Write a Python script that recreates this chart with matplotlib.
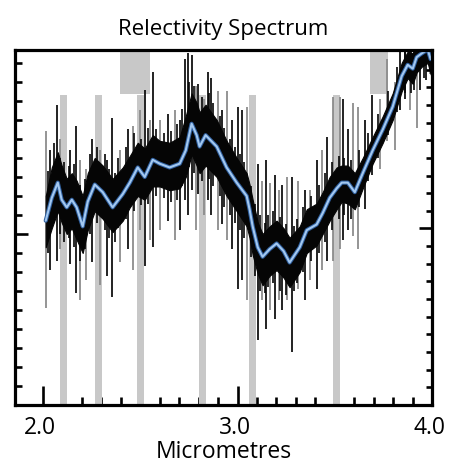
import matplotlib
matplotlib.use("Agg")
import matplotlib.pyplot as plt
from matplotlib.ticker import FixedLocator
from matplotlib.transforms import ScaledTranslation

# ---------------- data ----------------
# smoothed spectrum (blue line)
smooth_x = [2.014, 2.045, 2.076, 2.096, 2.122, 2.148, 2.173, 2.204, 2.230, 2.266,
            2.307, 2.358, 2.410, 2.446, 2.487, 2.523, 2.564, 2.600, 2.651, 2.703,
            2.734, 2.764, 2.790, 2.805, 2.836, 2.893, 2.944, 2.996, 3.047, 3.062,
            3.078, 3.104, 3.129, 3.165, 3.201, 3.237, 3.268, 3.320, 3.356, 3.407,
            3.438, 3.474, 3.510, 3.536, 3.567, 3.603, 3.644, 3.695, 3.747, 3.798,
            3.844, 3.875, 3.901, 3.921, 3.947, 3.978, 3.993]
smooth_y = [9.7, 10.9, 11.7, 10.8, 10.4, 10.8, 10.4, 9.4, 10.7, 11.6,
            11.2, 10.4, 11.1, 11.7, 12.5, 12.0, 12.9, 12.7, 12.5, 12.7,
            13.4, 14.8, 14.2, 13.6, 14.2, 13.6, 12.5, 11.7, 11.0, 10.3,
            9.4, 8.3, 7.8, 8.2, 8.5, 8.1, 7.5, 8.3, 9.2, 9.5,
            10.1, 10.9, 11.4, 11.7, 11.7, 11.2, 12.2, 13.4, 14.5, 15.7,
            17.3, 17.9, 17.7, 18.3, 18.5, 18.7, 18.2]
# dense scatter of the raw measurements (upper / lower envelope)
raw_upper = [11.0, 12.5, 13.3, 12.6, 11.9, 12.2, 11.8, 11.0, 12.2, 13.0,
             12.6, 11.9, 12.5, 13.1, 13.8, 13.5, 14.2, 13.9, 13.8, 14.1,
             15.2, 16.4, 15.9, 15.4, 15.8, 15.0, 13.9, 13.0, 12.2, 11.6,
             10.8, 9.6, 9.0, 9.4, 9.7, 9.3, 8.8, 9.4, 10.3, 10.6,
             11.2, 12.0, 12.5, 12.6, 12.6, 12.2, 13.0, 14.1, 15.2, 16.4,
             18.0, 18.6, 18.5, 18.9, 19.0, 19.0, 18.9]
raw_lower = [8.3, 9.3, 10.2, 9.6, 9.0, 9.3, 8.7, 8.0, 9.2, 10.2,
             9.8, 9.1, 9.7, 10.4, 11.0, 10.8, 11.5, 11.5, 11.3, 11.4,
             12.0, 13.2, 12.6, 12.2, 12.6, 12.0, 11.0, 10.2, 9.4, 8.8,
             7.9, 6.9, 6.3, 6.8, 7.1, 6.7, 6.2, 7.0, 8.0, 8.4,
             9.0, 9.7, 10.3, 10.7, 10.6, 10.3, 11.4, 12.7, 13.8, 15.0,
             16.5, 17.2, 16.9, 17.5, 17.8, 18.0, 17.4]
# short scatter ticks roughening the dense band
scatter_x = [2.025, 2.055, 2.085, 2.110, 2.135, 2.160, 2.190, 2.215, 2.240, 2.280,
             2.320, 2.340, 2.370, 2.385, 2.425, 2.470, 2.505, 2.540, 2.580, 2.620,
             2.660, 2.690, 2.715, 2.750, 2.775, 2.815, 2.855, 2.875, 2.910, 2.930,
             2.960, 2.985, 3.015, 3.035, 3.070, 3.090, 3.115, 3.140, 3.155, 3.180,
             3.220, 3.250, 3.290, 3.305, 3.335, 3.380, 3.420, 3.450, 3.485, 3.520,
             3.550, 3.585, 3.625, 3.670, 3.720, 3.775, 3.820, 3.860, 3.890, 3.910,
             3.960]
scatter_top = [12.3, 13.8, 13.0, 12.8, 12.6, 12.7, 11.6, 11.9, 13.2, 13.6,
               13.2, 12.4, 12.2, 13.0, 13.6, 14.3, 14.0, 14.6, 14.5, 14.3,
               14.4, 14.8, 15.6, 17.0, 16.8, 16.2, 16.4, 15.9, 15.2, 14.6,
               14.0, 13.6, 13.2, 12.8, 11.5, 10.6, 10.0, 9.6, 10.0, 10.2,
               9.9, 9.5, 9.4, 9.8, 10.4, 11.0, 11.6, 12.2, 12.8, 13.1,
               13.0, 12.9, 13.4, 14.3, 15.3, 16.5, 17.8, 18.7, 18.7, 18.7,
               18.7]
scatter_bottom = [8.0, 9.6, 9.0, 8.6, 8.8, 8.3, 7.6, 8.2, 9.0, 9.6,
                  9.2, 8.8, 8.6, 9.3, 9.8, 10.2, 10.5, 10.6, 11.0, 10.9,
                  10.7, 10.8, 11.5, 12.5, 12.2, 11.8, 11.9, 11.5, 11.0, 10.4,
                  10.0, 9.6, 9.2, 8.8, 7.8, 6.8, 6.0, 5.9, 6.2, 6.4,
                  6.0, 5.8, 6.0, 6.4, 7.0, 7.6, 8.0, 8.6, 9.2, 9.8,
                  10.0, 9.8, 10.4, 11.8, 13.0, 14.2, 15.4, 16.4, 16.4, 16.6,
                  17.2]
# error-bar spikes
spike_x = [2.014, 2.034, 2.070, 2.086, 2.137, 2.168, 2.189, 2.220, 2.250, 2.292,
           2.328, 2.354, 2.394, 2.435, 2.461, 2.497, 2.523, 2.548, 2.564, 2.600,
           2.641, 2.677, 2.703, 2.728, 2.744, 2.764, 2.785, 2.795, 2.826, 2.847,
           2.862, 2.898, 2.919, 2.944, 2.970, 3.001, 3.021, 3.047, 3.104, 3.124,
           3.145, 3.165, 3.191, 3.212, 3.227, 3.253, 3.278, 3.309, 3.345, 3.371,
           3.407, 3.433, 3.459, 3.490, 3.525, 3.541, 3.567, 3.593, 3.618, 3.654,
           3.690, 3.731, 3.767, 3.808, 3.834, 3.860, 3.885, 3.921, 3.937, 3.968,
           3.989]
spike_top = [14.4, 13.4, 15.8, 14.0, 13.4, 14.7, 12.9, 12.4, 14.0, 13.4,
             12.9, 15.1, 13.4, 14.5, 14.7, 15.5, 16.6, 15.0, 17.5, 15.0,
             15.3, 15.5, 15.0, 18.2, 18.5, 18.4, 16.8, 16.9, 16.1, 17.5,
             17.2, 16.5, 15.5, 16.5, 15.0, 15.7, 15.5, 15.7, 12.7, 11.8,
             12.9, 11.7, 12.1, 11.3, 11.6, 12.0, 12.0, 11.8, 11.3, 11.3,
             12.9, 13.4, 14.1, 16.2, 16.2, 16.1, 14.5, 15.9, 15.7, 15.0,
             16.3, 16.1, 18.2, 17.0, 18.7, 18.7, 18.7, 18.2, 18.7, 18.7,
             18.4]
spike_bottom = [5.1, 7.1, 7.6, 8.2, 7.4, 5.9, 5.5, 6.6, 7.5, 6.3,
                6.8, 5.7, 7.5, 8.2, 7.1, 9.2, 7.3, 8.7, 8.3, 9.2,
                9.7, 8.7, 9.2, 10.8, 10.0, 11.3, 9.2, 11.1, 10.0, 10.8,
                10.0, 9.2, 9.5, 8.7, 8.2, 6.1, 6.6, 5.5, 3.4, 5.5,
                4.0, 5.0, 4.5, 5.5, 5.0, 5.5, 2.8, 6.1, 5.5, 6.6,
                6.1, 7.1, 7.6, 7.6, 8.2, 8.7, 9.2, 8.9, 8.2, 10.3,
                12.1, 12.4, 13.9, 13.4, 15.5, 16.1, 15.5, 14.6, 16.6, 17.1,
                17.4]
spike_dark = [0, 1, 1, 0, 1, 1, 0, 0, 1, 0,
              1, 1, 0, 1, 0, 0, 1, 0, 1, 0,
              1, 0, 1, 1, 1, 1, 0, 1, 0, 1,
              1, 0, 1, 0, 1, 1, 1, 0, 1, 0,
              1, 0, 1, 0, 1, 0, 1, 0, 1, 0,
              1, 0, 1, 0, 0, 1, 1, 0, 0, 1,
              1, 0, 0, 0, 1, 1, 0, 0, 1, 1,
              0]
# masked (telluric) regions
band_centers = [2.106, 2.286, 2.502, 2.821, 3.078, 3.510]
band_top = 16.3
box_ranges = [(2.395, 2.549), (3.680, 3.772)]
box_bottom = 16.35

xticks_major = [2.0, 3.0, 4.0]
xtick_labels = ["2.0", "3.0", "4.0"]

# ---------------- figure ----------------
FONT = "Open Sans"
fig = plt.figure(figsize=(4.55, 4.69), dpi=100)
ax = fig.add_axes([15 / 455, (469 - 405) / 469, (432 - 15) / 455, (405 - 50) / 469])
xmin, xmax = 1.856, 4.0
ymin, ymax = 0.0, 18.68
ax.set_xlim(xmin, xmax)
ax.set_ylim(ymin, ymax)

band_w = 0.036
band_col = "#c8c8c8"
for c in band_centers:
    ax.fill_between([c - band_w / 2, c + band_w / 2], [0, 0], [band_top, band_top],
                    color=band_col, lw=0, zorder=2)
for a, b in box_ranges:
    ax.fill_between([a, b], [box_bottom, box_bottom], [ymax + 1, ymax + 1],
                    color=band_col, lw=0, zorder=2)

# spikes
for x, t, b, d in zip(spike_x, spike_top, spike_bottom, spike_dark):
    ax.plot([x, x], [b, t], color="#111111" if d else "#8c8c8c",
            lw=1.3, zorder=3 if not d else 3.2, solid_capstyle="butt")

# dense raw data
ax.fill_between(smooth_x, raw_lower, raw_upper, color="#050505", lw=0.8,
                edgecolor="#050505", zorder=3.5)
for x, t, b in zip(scatter_x, scatter_top, scatter_bottom):
    ax.plot([x, x], [b, t], color="#050505", lw=1.2, zorder=3.5, solid_capstyle="butt")

# smoothed curve
ax.plot(smooth_x, smooth_y, color="#2f5f9e", lw=3.0, zorder=4,
        solid_joinstyle="round", solid_capstyle="round")
ax.plot(smooth_x, smooth_y, color="#a3c8f0", lw=1.5, zorder=4.1,
        solid_joinstyle="round", solid_capstyle="round")

# spines
for s in ax.spines.values():
    s.set_linewidth(2.3)
    s.set_zorder(6)

# x ticks
ax.xaxis.set_major_locator(FixedLocator(xticks_major))
ax.set_xticklabels(xtick_labels)
ax.xaxis.set_minor_locator(FixedLocator([2.0 + 0.1 * i for i in range(1, 20) if i != 10]))
ax.tick_params(axis="x", which="major", direction="in", length=14, width=1.9,
               labelsize=16.5, pad=8, top=False)
ax.tick_params(axis="x", which="minor", direction="in", length=6, width=1.9, top=False)
for lab in ax.get_xticklabels():
    lab.set_fontfamily(FONT)
    lab.set_transform(lab.get_transform() + ScaledTranslation(-3 / 100, 0, fig.dpi_scale_trans))

# left y ticks
ax.yaxis.set_major_locator(FixedLocator([9]))
ax.yaxis.set_minor_locator(FixedLocator([k for k in range(1, 19) if k != 9]))
ax.tick_params(axis="y", which="major", direction="in", length=9.5, width=1.9,
               labelleft=False, right=False)
ax.tick_params(axis="y", which="minor", direction="in", length=5, width=1.9, right=False)

# right y ticks (slightly different spacing in the reference)
ax2 = ax.twinx()
ax2.set_ylim(0, 20.11)
ax2.yaxis.set_major_locator(FixedLocator([10]))
ax2.yaxis.set_minor_locator(FixedLocator([k for k in range(1, 20) if k != 10]))
ax2.tick_params(axis="y", which="major", direction="in", length=9.5, width=1.9,
                labelright=False)
ax2.tick_params(axis="y", which="minor", direction="in", length=4.5, width=1.9)
for s in ax2.spines.values():
    s.set_visible(False)

ax.set_xlabel("Micrometres", fontsize=16.5, fontfamily=FONT, labelpad=0)
ax.set_title("Relectivity Spectrum", fontsize=16, fontfamily=FONT, pad=11)

fig.savefig("out.png", dpi=100)
